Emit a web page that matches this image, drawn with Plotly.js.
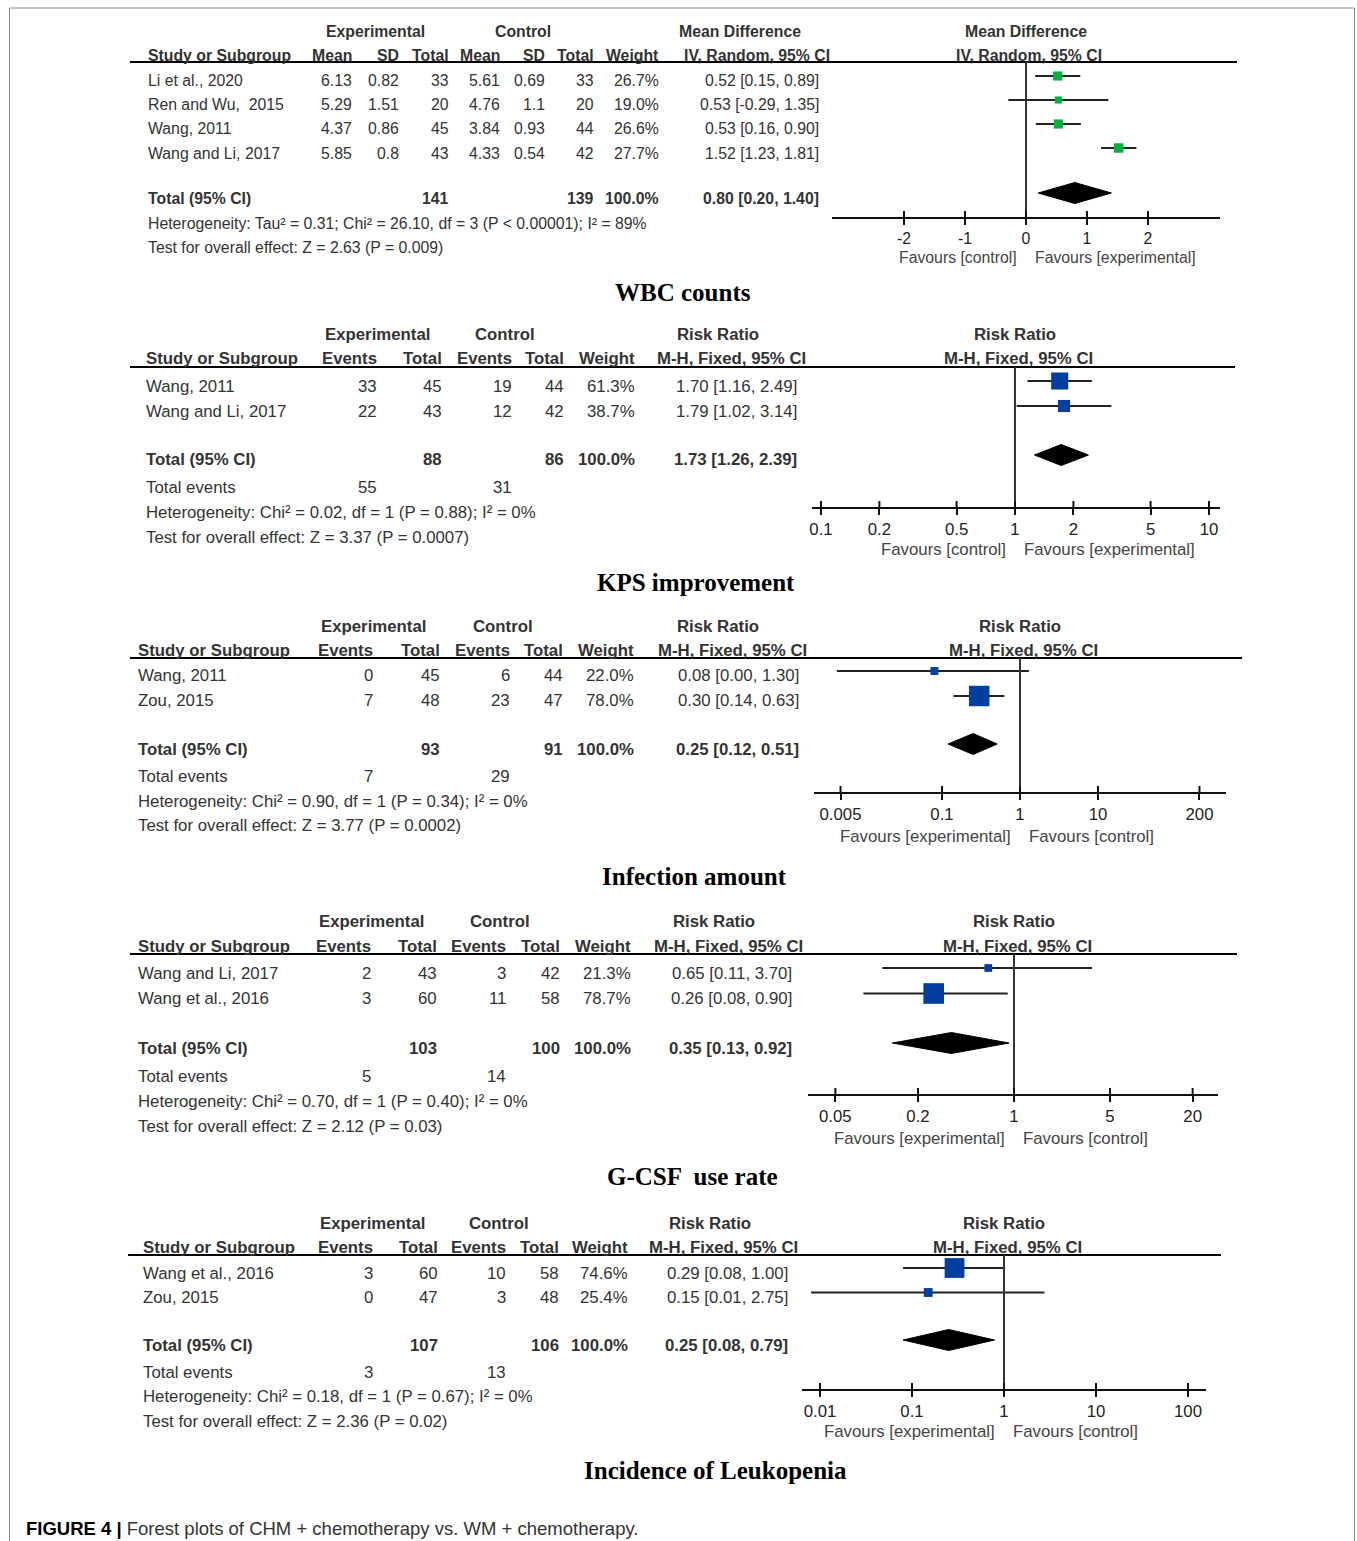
<!DOCTYPE html>
<html>
<head>
<meta charset="utf-8">
<script src="https://cdn.plot.ly/plotly-3.0.1.min.js"></script>
<style>
  html, body { margin: 0; padding: 0; background: #ffffff; }
  #chart { width: 1357px; height: 1541px; }
</style>
</head>
<body>
<div id="chart"></div>
<script>
// ================= DATA =================
// Panel 1: WBC counts (Mean Difference, IV, Random, 95% CI)
const wbcStudies   = ["Li et al., 2020", "Ren and Wu,  2015", "Wang, 2011", "Wang and Li, 2017"];
const wbcExpMean   = [6.13, 5.29, 4.37, 5.85];
const wbcExpSD     = [0.82, 1.51, 0.86, 0.8];
const wbcExpTotal  = [33, 20, 45, 43];
const wbcCtlMean   = [5.61, 4.76, 3.84, 4.33];
const wbcCtlSD     = [0.69, 1.1, 0.93, 0.54];
const wbcCtlTotal  = [33, 20, 44, 42];
const wbcWeight    = [26.7, 19.0, 26.6, 27.7];
const wbcEst       = [0.52, 0.53, 0.53, 1.52];
const wbcLow       = [0.15, -0.29, 0.16, 1.23];
const wbcHigh      = [0.89, 1.35, 0.90, 1.81];
const wbcPooled    = [0.80, 0.20, 1.40];   // estimate, lower, upper
const wbcHet       = "Heterogeneity: Tau² = 0.31; Chi² = 26.10, df = 3 (P < 0.00001); I² = 89%";
const wbcTest      = "Test for overall effect: Z = 2.63 (P = 0.009)";
const wbcTicks     = [-2, -1, 0, 1, 2];
const wbcFavours   = ["Favours [control]", "Favours [experimental]"];
const wbcTitle     = "WBC counts";

// Panel 2: KPS improvement (Risk Ratio, M-H, Fixed)
const kpsStudies   = ["Wang, 2011", "Wang and Li, 2017"];
const kpsExpEvents = [33, 22];
const kpsExpTotal  = [45, 43];
const kpsCtlEvents = [19, 12];
const kpsCtlTotal  = [44, 42];
const kpsWeight    = [61.3, 38.7];
const kpsEst       = [1.70, 1.79];
const kpsLow       = [1.16, 1.02];
const kpsHigh      = [2.49, 3.14];
const kpsPooled    = [1.73, 1.26, 2.39];
const kpsHet       = "Heterogeneity: Chi² = 0.02, df = 1 (P = 0.88); I² = 0%";
const kpsTest      = "Test for overall effect: Z = 3.37 (P = 0.0007)";
const kpsTicks     = [0.1, 0.2, 0.5, 1, 2, 5, 10];
const kpsFavours   = ["Favours [control]", "Favours [experimental]"];
const kpsTitle     = "KPS improvement";

// Panel 3: Infection amount
const infStudies   = ["Wang, 2011", "Zou, 2015"];
const infExpEvents = [0, 7];
const infExpTotal  = [45, 48];
const infCtlEvents = [6, 23];
const infCtlTotal  = [44, 47];
const infWeight    = [22.0, 78.0];
const infEst       = [0.08, 0.30];
const infLow       = [0.0045, 0.14];
const infHigh      = [1.30, 0.63];
const infPooled    = [0.25, 0.12, 0.51];
const infHet       = "Heterogeneity: Chi² = 0.90, df = 1 (P = 0.34); I² = 0%";
const infTest      = "Test for overall effect: Z = 3.77 (P = 0.0002)";
const infTicks     = [0.005, 0.1, 1, 10, 200];
const infFavours   = ["Favours [experimental]", "Favours [control]"];
const infTitle     = "Infection amount";

// Panel 4: G-CSF use rate
const gcsfStudies   = ["Wang and Li, 2017", "Wang et al., 2016"];
const gcsfExpEvents = [2, 3];
const gcsfExpTotal  = [43, 60];
const gcsfCtlEvents = [3, 11];
const gcsfCtlTotal  = [42, 58];
const gcsfWeight    = [21.3, 78.7];
const gcsfEst       = [0.65, 0.26];
const gcsfLow       = [0.11, 0.08];
const gcsfHigh      = [3.70, 0.90];
const gcsfPooled    = [0.35, 0.13, 0.92];
const gcsfHet       = "Heterogeneity: Chi² = 0.70, df = 1 (P = 0.40); I² = 0%";
const gcsfTest      = "Test for overall effect: Z = 2.12 (P = 0.03)";
const gcsfTicks     = [0.05, 0.2, 1, 5, 20];
const gcsfFavours   = ["Favours [experimental]", "Favours [control]"];
const gcsfTitle     = "G-CSF  use rate";

// Panel 5: Incidence of Leukopenia
const leuStudies   = ["Wang et al., 2016", "Zou, 2015"];
const leuExpEvents = [3, 0];
const leuExpTotal  = [60, 47];
const leuCtlEvents = [10, 3];
const leuCtlTotal  = [58, 48];
const leuWeight    = [74.6, 25.4];
const leuEst       = [0.29, 0.15];
const leuLow       = [0.08, 0.008];
const leuHigh      = [1.00, 2.75];
const leuPooled    = [0.25, 0.08, 0.79];
const leuHet       = "Heterogeneity: Chi² = 0.18, df = 1 (P = 0.67); I² = 0%";
const leuTest      = "Test for overall effect: Z = 2.36 (P = 0.02)";
const leuTicks     = [0.01, 0.1, 1, 10, 100];
const leuFavours   = ["Favours [experimental]", "Favours [control]"];
const leuTitle     = "Incidence of Leukopenia";

const figureLabel   = "FIGURE 4 |";
const figureCaption = "Forest plots of CHM + chemotherapy vs. WM + chemotherapy.";

// ================= LAYOUT HELPERS =================
const W = 1357, H = 1541;
const fx = p => p / W;
const fy = p => 1 - p / H;
const FONT = "Liberation Sans, Arial, Helvetica, sans-serif";
const SERIF = "Liberation Serif, 'Times New Roman', serif";
const TXT = "#333333";

const panels = [
  {
    kind: "md", studies: wbcStudies,
    cols: [wbcExpMean, wbcExpSD, wbcExpTotal, wbcCtlMean, wbcCtlSD, wbcCtlTotal],
    colHeads: ["Mean", "SD", "Total", "Mean", "SD", "Total"],
    totalIdx: [2, 5], eventIdx: null,
    weight: wbcWeight, est: wbcEst, low: wbcLow, high: wbcHigh, pooled: wbcPooled,
    het: wbcHet, test: wbcTest, ticks: wbcTicks, favours: wbcFavours, title: wbcTitle,
    effect: ["Mean Difference", "IV, Random, 95% CI"],
    color: "#00B140", axisType: "linear", nullVal: 0,
    pos: { fs: 15.8, hdr1: 31, hdr2: 55, lineY: 62, lineX: [130, 1237], studyX: 147,
           colX: [353, 400, 450, 501, 546, 595], weightX: 660, ciX: 820,
           expC: 375, ctlC: 523, effC: [740, 757],
           row0: 76, rowPx: 24, totY: 198, evY: null, hetY: 224, testY: 248,
           axisY: 217, axisX: [832, 1220], nullPx: 1026, scale: 61,
           favY: 258, titleY: 292, titleX: 683 }
  },
  {
    kind: "rr", studies: kpsStudies,
    cols: [kpsExpEvents, kpsExpTotal, kpsCtlEvents, kpsCtlTotal],
    colHeads: ["Events", "Total", "Events", "Total"],
    totalIdx: [1, 3], eventIdx: [0, 2],
    weight: kpsWeight, est: kpsEst, low: kpsLow, high: kpsHigh, pooled: kpsPooled,
    het: kpsHet, test: kpsTest, ticks: kpsTicks, favours: kpsFavours, title: kpsTitle,
    effect: ["Risk Ratio", "M-H, Fixed, 95% CI"],
    color: "#003FA0", axisType: "log", nullVal: 1,
    pos: { fs: 16.8, hdr1: 334, hdr2: 359, lineY: 367, lineX: [130, 1235], studyX: 145,
           colX: [378, 443, 513, 565], weightX: 636, ciX: 798,
           expC: 377, ctlC: 505, effC: [718, 731],
           row0: 381, rowPx: 25, totY: 460, evY: 488, hetY: 513, testY: 538,
           axisY: 507, axisX: [812, 1220], nullPx: 1015, scale: 194,
           favY: 549, titleY: 583, titleX: 696 }
  },
  {
    kind: "rr", studies: infStudies,
    cols: [infExpEvents, infExpTotal, infCtlEvents, infCtlTotal],
    colHeads: ["Events", "Total", "Events", "Total"],
    totalIdx: [1, 3], eventIdx: [0, 2],
    weight: infWeight, est: infEst, low: infLow, high: infHigh, pooled: infPooled,
    het: infHet, test: infTest, ticks: infTicks, favours: infFavours, title: infTitle,
    effect: ["Risk Ratio", "M-H, Fixed, 95% CI"],
    color: "#003FA0", axisType: "log", nullVal: 1,
    pos: { fs: 16.8, hdr1: 626, hdr2: 650, lineY: 658, lineX: [130, 1242], studyX: 137,
           colX: [374, 441, 511, 564], weightX: 635, ciX: 800,
           expC: 373, ctlC: 503, effC: [718, 732],
           row0: 671, rowPx: 25, totY: 749, evY: 776, hetY: 801, testY: 826,
           axisY: 792, axisX: [814, 1226], nullPx: 1020, scale: 78,
           favY: 836, titleY: 876, titleX: 694 }
  },
  {
    kind: "rr", studies: gcsfStudies,
    cols: [gcsfExpEvents, gcsfExpTotal, gcsfCtlEvents, gcsfCtlTotal],
    colHeads: ["Events", "Total", "Events", "Total"],
    totalIdx: [1, 3], eventIdx: [0, 2],
    weight: gcsfWeight, est: gcsfEst, low: gcsfLow, high: gcsfHigh, pooled: gcsfPooled,
    het: gcsfHet, test: gcsfTest, ticks: gcsfTicks, favours: gcsfFavours, title: gcsfTitle,
    effect: ["Risk Ratio", "M-H, Fixed, 95% CI"],
    color: "#003FA0", axisType: "log", nullVal: 1,
    pos: { fs: 16.8, hdr1: 921, hdr2: 946, lineY: 954, lineX: [130, 1237], studyX: 137,
           colX: [372, 438, 507, 561], weightX: 632, ciX: 793,
           expC: 371, ctlC: 500, effC: [714, 728],
           row0: 968, rowPx: 25.5, totY: 1048, evY: 1076, hetY: 1101, testY: 1126,
           axisY: 1094, axisX: [808, 1218], nullPx: 1014, scale: 137.3,
           favY: 1138, titleY: 1176, titleX: 692 }
  },
  {
    kind: "rr", studies: leuStudies,
    cols: [leuExpEvents, leuExpTotal, leuCtlEvents, leuCtlTotal],
    colHeads: ["Events", "Total", "Events", "Total"],
    totalIdx: [1, 3], eventIdx: [0, 2],
    weight: leuWeight, est: leuEst, low: leuLow, high: leuHigh, pooled: leuPooled,
    het: leuHet, test: leuTest, ticks: leuTicks, favours: leuFavours, title: leuTitle,
    effect: ["Risk Ratio", "M-H, Fixed, 95% CI"],
    color: "#003FA0", axisType: "log", nullVal: 1,
    pos: { fs: 16.8, hdr1: 1223, hdr2: 1247, lineY: 1255, lineX: [128, 1221], studyX: 142,
           colX: [374, 439, 507, 560], weightX: 629, ciX: 789,
           expC: 372, ctlC: 499, effC: [710, 723],
           row0: 1268, rowPx: 24.5, totY: 1345, evY: 1372, hetY: 1396, testY: 1421,
           axisY: 1389, axisX: [802, 1206], nullPx: 1004, scale: 92,
           favY: 1431, titleY: 1470, titleX: 715 }
  }
];

// ================= BUILD =================
const traces = [];
const annotations = [];
const shapes = [];
const layout = {
  width: W, height: H,
  margin: { l: 0, r: 0, t: 0, b: 0 },
  paper_bgcolor: "#ffffff", plot_bgcolor: "rgba(0,0,0,0)",
  showlegend: false,
  annotations, shapes
};

const fmtCI = (e, l, h) => e.toFixed(2) + " [" + l.toFixed(2) + ", " + h.toFixed(2) + "]";
const sum = a => a.reduce((s, v) => s + v, 0);

panels.forEach((P, k) => {
  const L = P.pos;
  const FS = L.fs;
  function txt(text, x, y, anchor, extra) {
    annotations.push(Object.assign({
      text: text, x: fx(x), y: fy(y), xref: "paper", yref: "paper",
      xanchor: anchor, yanchor: "middle", showarrow: false, borderpad: 0,
      font: { family: FONT, size: FS, color: TXT }
    }, extra || {}));
  }
  const sfx = k === 0 ? "" : String(k + 1);
  const xr = "x" + sfx, yr = "y" + sfx;
  const rows = P.studies.map((_, i) => i);
  const diamondRow = (L.totY - 5 - L.row0) / L.rowPx;
  const dHalf = 10.5 / L.rowPx;
  const isLog = P.axisType === "log";
  // annotation x on a log axis is given in log10 units
  const nullAnn = isLog ? Math.log10(P.nullVal) : P.nullVal;

  // --- axes ---
  const toVal = p => nullAnn + (p - L.nullPx) / L.scale;
  layout["xaxis" + sfx] = {
    type: P.axisType, domain: [fx(L.axisX[0]), fx(L.axisX[1])],
    range: [toVal(L.axisX[0]), toVal(L.axisX[1])],
    anchor: yr, showline: true, linewidth: 2, linecolor: "#111111",
    ticks: "outside", ticklen: 6, tickwidth: 2, tickcolor: "#111111",
    tickvals: P.ticks, ticktext: P.ticks.map(String),
    tickfont: { family: FONT, size: FS, color: "#222222" },
    showgrid: false, zeroline: false, fixedrange: true
  };
  layout["yaxis" + sfx] = {
    domain: [fy(L.axisY), fy(L.lineY)],
    range: [(L.axisY - L.row0) / L.rowPx, (L.lineY - L.row0) / L.rowPx],
    visible: false, showgrid: false, zeroline: false, fixedrange: true,
    anchor: xr
  };

  // --- study squares with CI lines ---
  traces.push({
    type: "scatter", mode: "markers", xaxis: xr, yaxis: yr,
    x: P.est, y: rows, hoverinfo: "skip", cliponaxis: false,
    error_x: {
      type: "data", symmetric: false,
      array: P.high.map((h, i) => h - P.est[i]),
      arrayminus: P.low.map((l, i) => P.est[i] - l),
      width: 0, thickness: 2, color: "#222222"
    },
    marker: { symbol: "square", color: P.color, opacity: 1, line: { width: 0 },
              size: P.weight.map(w => 0.78 * Math.pow(w, 0.75)) }
  });
  // --- pooled diamond ---
  const [pe, pl, ph] = P.pooled;
  traces.push({
    type: "scatter", mode: "lines", xaxis: xr, yaxis: yr,
    x: [pl, pe, ph, pe, pl],
    y: [diamondRow, diamondRow - dHalf, diamondRow, diamondRow + dHalf, diamondRow],
    fill: "toself", fillcolor: "#000000", line: { color: "#000000", width: 1 },
    hoverinfo: "skip"
  });

  // --- shapes: header rule, null line, upper tick halves ---
  shapes.push({ type: "line", xref: "paper", yref: "paper",
    x0: fx(L.lineX[0]), x1: fx(L.lineX[1]), y0: fy(L.lineY), y1: fy(L.lineY),
    line: { color: "#000000", width: 2 } });
  shapes.push({ type: "line", xref: xr, yref: "paper",
    x0: P.nullVal, x1: P.nullVal, y0: fy(L.axisY), y1: fy(L.lineY),
    line: { color: "#333333", width: 2 } });
  P.ticks.forEach(t => shapes.push({ type: "line", xref: xr, yref: "paper",
    x0: t, x1: t, y0: fy(L.axisY), y1: fy(L.axisY - 6),
    line: { color: "#111111", width: 2 } }));

  // --- header text ---
  const B = s => "<b>" + s + "</b>";
  txt(B("Experimental"), L.expC, L.hdr1, "center");
  txt(B("Control"), L.ctlC, L.hdr1, "center");
  txt(B(P.effect[0]), L.effC[0], L.hdr1, "center");
  txt(B("Study or Subgroup"), L.studyX, L.hdr2, "left");
  P.colHeads.forEach((h, j) => txt(B(h), L.colX[j], L.hdr2, "right"));
  txt(B("Weight"), L.weightX, L.hdr2, "right");
  txt(B(P.effect[1]), L.effC[1], L.hdr2, "center");
  annotations.push({ text: B(P.effect[0]), xref: xr, x: nullAnn, yref: "paper", y: fy(L.hdr1),
    xanchor: "center", yanchor: "middle", showarrow: false, borderpad: 0,
    font: { family: FONT, size: FS, color: TXT } });
  annotations.push({ text: B(P.effect[1]), xref: xr, x: nullAnn, xshift: 3, yref: "paper", y: fy(L.hdr2),
    xanchor: "center", yanchor: "middle", showarrow: false, borderpad: 0,
    font: { family: FONT, size: FS, color: TXT } });

  // --- study rows ---
  P.studies.forEach((s, i) => {
    const y = L.row0 + i * L.rowPx + 5;
    txt(s, L.studyX, y, "left");
    P.cols.forEach((c, j) => txt(String(c[i]), L.colX[j], y, "right"));
    txt(P.weight[i].toFixed(1) + "%", L.weightX, y, "right");
    txt(fmtCI(P.est[i], P.low[i], P.high[i]), L.ciX, y, "right");
  });

  // --- total row ---
  txt(B("Total (95% CI)"), L.studyX, L.totY, "left");
  P.totalIdx.forEach(j => txt(B(String(sum(P.cols[j]))), L.colX[j], L.totY, "right"));
  txt(B(sum(P.weight).toFixed(1) + "%"), L.weightX, L.totY, "right");
  txt(B(fmtCI(pe, pl, ph)), L.ciX, L.totY, "right");

  if (P.eventIdx) {
    txt("Total events", L.studyX, L.evY, "left");
    P.eventIdx.forEach(j => txt(String(sum(P.cols[j])), L.colX[j], L.evY, "right"));
  }
  txt(P.het, L.studyX, L.hetY, "left");
  txt(P.test, L.studyX, L.testY, "left");

  // --- favours labels ---
  annotations.push({ text: P.favours[0], xref: xr, x: nullAnn, xshift: -8, yref: "paper", y: fy(L.favY),
    xanchor: "right", yanchor: "middle", showarrow: false, borderpad: 0,
    font: { family: FONT, size: FS, color: "#444444" } });
  annotations.push({ text: P.favours[1], xref: xr, x: nullAnn, xshift: 8, yref: "paper", y: fy(L.favY),
    xanchor: "left", yanchor: "middle", showarrow: false, borderpad: 0,
    font: { family: FONT, size: FS, color: "#444444" } });

  // --- panel caption ---
  txt("<b>" + P.title + "</b>", L.titleX, L.titleY, "center",
      { font: { family: SERIF, size: 25, color: "#000000" } });
});

// outer frame
shapes.push({ type: "rect", xref: "paper", yref: "paper",
  x0: fx(9.5), x1: fx(1354.5), y0: fy(1560), y1: fy(8),
  line: { color: "#8a8a8a", width: 1 }, fillcolor: "rgba(0,0,0,0)" });

// figure caption
annotations.push({
  text: "<b>" + figureLabel + "</b> <span style='color:#333333'>" + figureCaption + "</span>",
  x: fx(25), y: fy(1528), xref: "paper", yref: "paper", xanchor: "left", yanchor: "middle",
  showarrow: false, borderpad: 0, font: { family: FONT, size: 18.5, color: "#000000" }
});

Plotly.newPlot("chart", traces, layout, { staticPlot: true, displayModeBar: false });
</script>
</body>
</html>
